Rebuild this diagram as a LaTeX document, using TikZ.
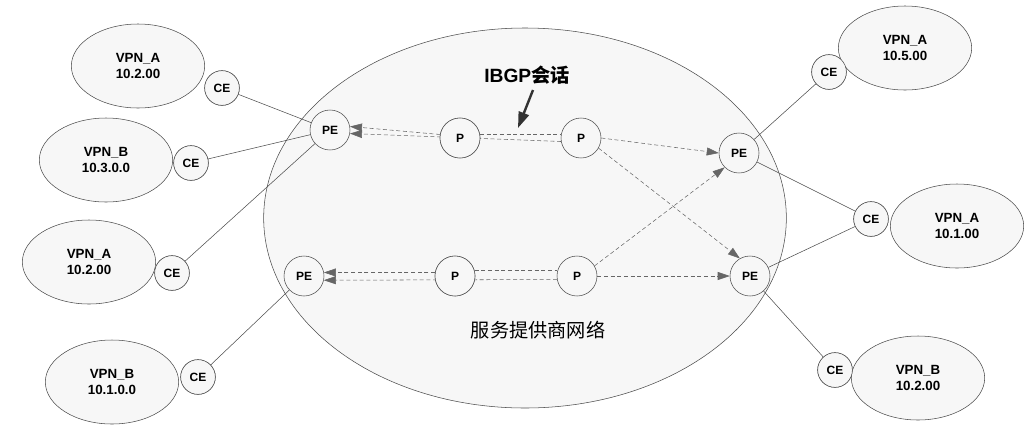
\documentclass[tikz,border=0pt]{standalone}
\usepackage{fontspec}
\setmainfont{Liberation Sans}
\newfontfamily\cjk{Noto Sans CJK SC}
\usetikzlibrary{arrows.meta,shapes.geometric}
\begin{document}
\begin{tikzpicture}[x=0.75pt,y=-0.75pt,
 rt/.style={circle,draw=black!70,fill=gray!6,minimum size=30pt,inner sep=0pt,font=\bfseries\small},
 vpn/.style={ellipse,draw=black!70,fill=gray!6,minimum width=100pt,minimum height=63pt,align=center,font=\bfseries,inner sep=0pt},
 dl/.style={densely dashed,draw=black!60,-{Triangle[length=9pt,width=6pt]}},
 sl/.style={draw=black!70}]
\useasboundingbox (0,0) rectangle (1030,436);
\node[ellipse,draw=black!70,fill=gray!6,minimum width=392pt,minimum height=285pt] (sp) at (525,218) {};
\node (lab) at (538,330) {\cjk\Large 服务提供商网络};
\node (ib) at (527,75) {\bfseries\Large IBGP\cjk 会话};
% routers
\node[rt] (pe1) at (330,130) {PE};
\node[rt] (p1) at (460,138) {P};
\node[rt] (p2) at (581,138) {P};
\node[rt] (pe2) at (739,153) {PE};
\node[rt] (pe3) at (304,276) {PE};
\node[rt] (p3) at (455,276) {P};
\node[rt] (p4) at (577,276) {P};
\node[rt] (pe4) at (750,276) {PE};
% CE
\node[rt,minimum size=26pt] (ce1) at (222,88) {CE};
\node[rt,minimum size=26pt] (ce2) at (191,163) {CE};
\node[rt,minimum size=26pt] (ce3) at (172,273) {CE};
\node[rt,minimum size=26pt] (ce4) at (198,377) {CE};
\node[rt,minimum size=26pt] (ce5) at (829,72) {CE};
\node[rt,minimum size=26pt] (ce6) at (871,219) {CE};
\node[rt,minimum size=26pt] (ce7) at (835,370) {CE};
\node[vpn] (v1) at (138,66) {VPN\_A\\10.2.00};
\node[vpn] (v2) at (106,160) {VPN\_B\\10.3.0.0};
\node[vpn] (v3) at (89,262) {VPN\_A\\10.2.00};
\node[vpn] (v4) at (112,382) {VPN\_B\\10.1.0.0};
\node[vpn] (v5) at (905,48) {VPN\_A\\10.5.00};
\node[vpn] (v6) at (957,226) {VPN\_A\\10.1.00};
\node[vpn] (v7) at (918,378) {VPN\_B\\10.2.00};
\node[rt,minimum size=26pt] at (222,88) {CE};
\node[rt,minimum size=26pt] at (191,163) {CE};
\node[rt,minimum size=26pt] at (172,273) {CE};
\node[rt,minimum size=26pt] at (198,377) {CE};
\node[rt,minimum size=26pt] at (829,72) {CE};
\node[rt,minimum size=26pt] at (871,219) {CE};
\node[rt,minimum size=26pt] at (835,370) {CE};
% solid
\draw[sl] (ce1) -- (pe1);
\draw[sl] (ce2) -- (pe1);
\draw[sl] (ce3) -- (pe1);
\draw[sl] (ce4) -- (pe3);
\draw[sl] (ce5) -- (pe2);
\draw[sl] (ce6) -- (pe2);
\draw[sl] (ce6) -- (pe4);
\draw[sl] (ce7) -- (pe4);
% dashed
\draw[dl] (p1.170) -- (pe1.10);
\draw[dl] (p2.190) -- (pe1.-10);
\draw[densely dashed,draw=black!60] (p1.10) -- (p2.170);
\draw[dl] (p2.east) -- (pe2.west);
\draw[dl] (p2.-30) -- (pe4.120);
\draw[dl] (p4.30) -- (pe2.-135);
\draw[dl] (p4.east) -- (pe4.west);
\draw[dl] (p3.170) -- (pe3.10);
\draw[dl] (p4.190) -- (pe3.-12);
\draw[densely dashed,draw=black!60] (p3.15) -- (p4.165);
\node[rt] at (460,138) {P};
\node[rt] at (455,276) {P};
\coordinate (ibs) at (533,90);
\coordinate (ibt) at (518,128);
\draw[line width=1.8pt,draw=black!80,-{Triangle[length=12pt,width=8pt]}] (ibs) -- (ibt);
\end{tikzpicture}
\end{document}
